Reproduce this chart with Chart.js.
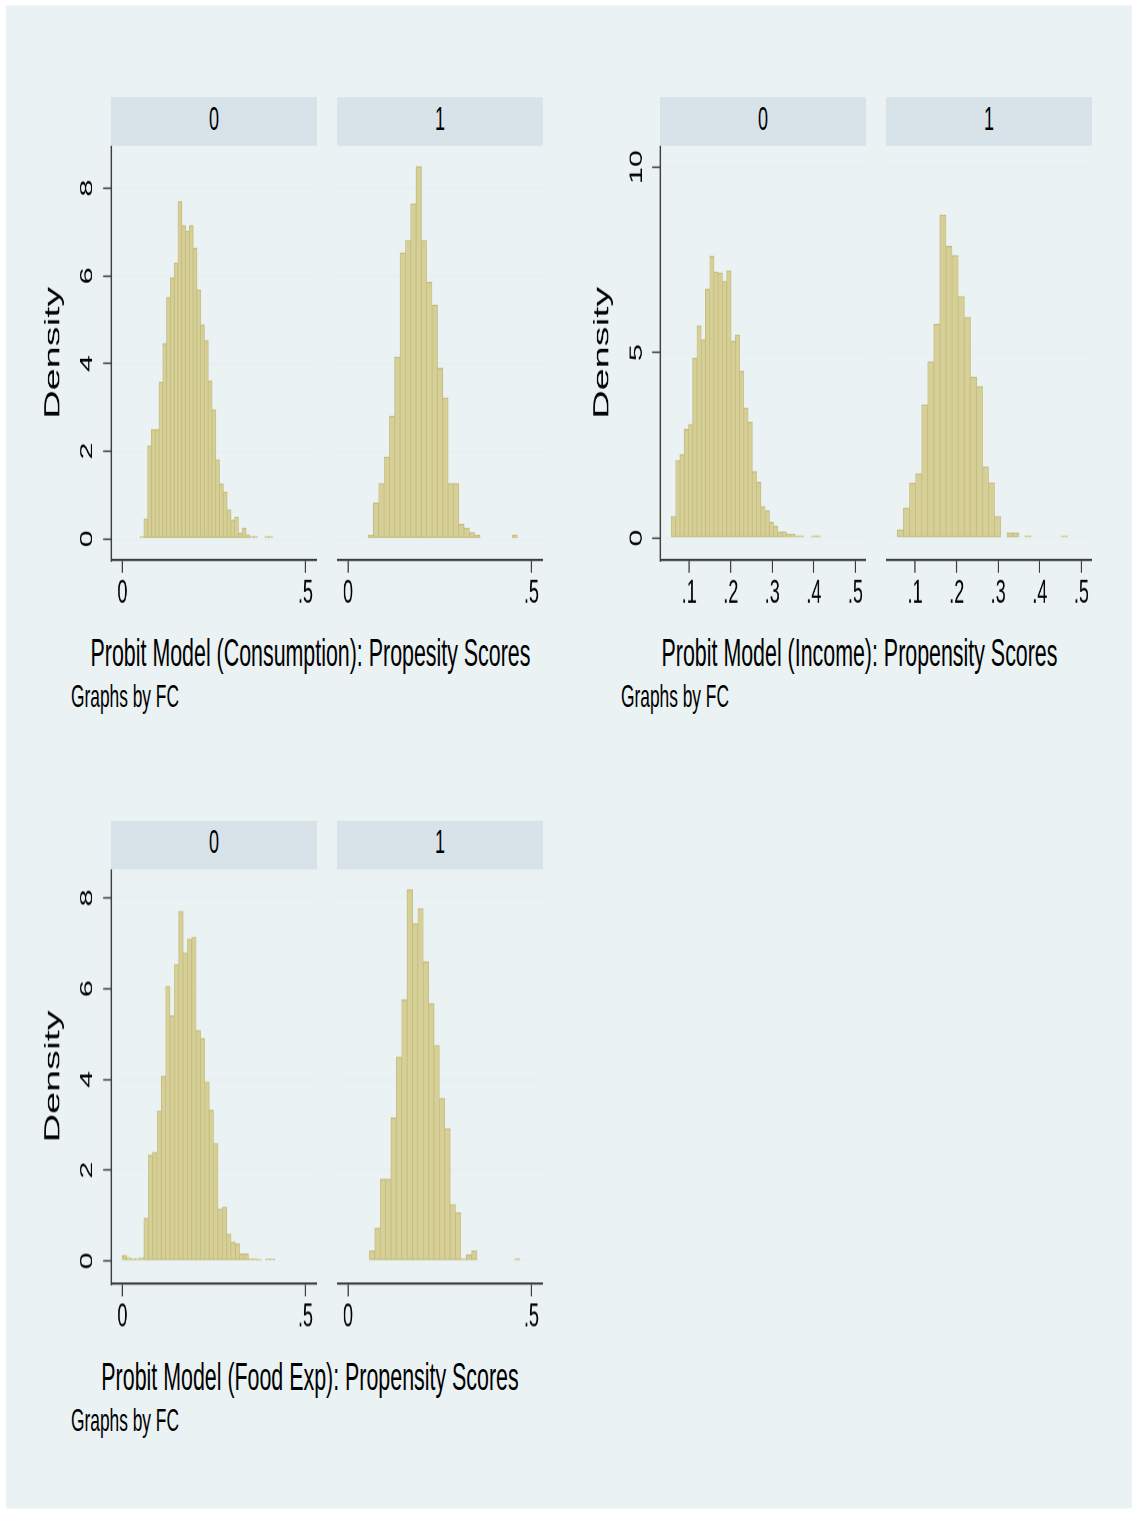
<!DOCTYPE html>
<html>
<head>
<meta charset="utf-8">
<title>Propensity score histograms by FC</title>
<script src="https://cdn.jsdelivr.net/npm/chart.js@4.4.1/dist/chart.umd.min.js"></script>
<style>
  html, body { margin: 0; padding: 0; background: #ffffff; }
  /* The figure is laid out in a short frame and stretched vertically,
     which gives the tall, condensed lettering of the exported graph. */
  #page { position: absolute; left: 0; top: 0; width: 1138px; height: 841.11px;
          transform: scaleY(1.8); transform-origin: 0 0; }
  .bg { position: absolute; left: 6px; top: 3.33px; width: 1126px; height: 834.4px; background: #eaf2f3; }
  .strip { position: absolute; height: 27.22px; background: #d7e3e9; }
  .strip span { position: absolute; left: 0; right: 0; top: 2.8px; text-align: center;
                font: 18px/18px "Liberation Sans", Arial, sans-serif; color: #000; }
  .title { position: absolute; font: 21.4px/21.4px "Liberation Sans", Arial, sans-serif;
           color: #000; white-space: nowrap; transform: translateX(-50%); }
  .note { position: absolute; font: 17.35px/17.35px "Liberation Sans", Arial, sans-serif;
          color: #000; white-space: nowrap; }
  canvas { position: absolute; }
</style>
</head>
<body>
<div id="page"><div class="bg"></div></div>
<script>
// ---- data -------------------------------------------------------------
const fcGroups = ['0', '1'];

const consTicksX = [0, 0.5];
const consTickLabelsX = ['0', '.5'];
const incTicksX = [0.1, 0.2, 0.3, 0.4, 0.5];
const incTickLabelsX = ['.1', '.2', '.3', '.4', '.5'];

const consTicksY = [0, 2, 4, 6, 8];
const consTickLabelsY = ['0', '2', '4', '6', '8'];
const incTicksY = [0, 5, 10];
const incTickLabelsY = ['0', '5', '10'];
const foodTicksY = [0, 2, 4, 6, 8];
const foodTickLabelsY = ['0', '2', '4', '6', '8'];

// Histogram bins: lower edge of the first bin, bin width, density per bin
const consFC0Start = 0.0484, consFC0Width = 0.01033;
const consFC0 = [0.05, 0.45, 2.12, 2.49, 2.49, 3.57, 4.45, 5.50, 5.95, 6.29,
                 7.69, 7.14, 7.01, 7.14, 6.63, 5.68, 4.88, 4.52, 3.60, 2.94,
                 1.80, 1.25, 1.06, 0.66, 0.43, 0.49, 0.13, 0.24, 0.09, 0.05,
                 0.05, 0, 0, 0.05, 0.05];

const consFC1Start = 0.0546, consFC1Width = 0.01454;
const consFC1 = [0.08, 0.82, 1.26, 1.86, 2.79, 4.14, 6.52, 6.80, 7.64, 8.49,
                 6.80, 5.85, 5.33, 3.89, 3.21, 1.26, 1.26, 0.33, 0.24, 0.14,
                 0.08, 0, 0, 0, 0, 0, 0, 0.08];

const incFC0Start = 0.0573, incFC0Width = 0.01024;
const incFC0 = [0.58, 2.09, 2.25, 2.93, 3.06, 4.85, 5.72, 5.34, 6.71, 7.60,
                7.17, 7.14, 6.91, 7.20, 5.31, 5.47, 4.50, 3.50, 3.12, 1.79,
                1.50, 0.85, 0.74, 0.42, 0.32, 0.17, 0.17, 0.10, 0.10, 0.06,
                0.06, 0, 0, 0.06, 0.06];

const incFC1Start = 0.0573, incFC1Width = 0.01463;
const incFC1 = [0.22, 0.81, 1.48, 1.73, 3.59, 4.75, 5.76, 8.70, 7.86, 7.61,
                6.51, 5.94, 4.34, 4.08, 1.92, 1.49, 0.58, 0, 0.14, 0.14,
                0, 0.06, 0, 0, 0, 0, 0, 0.06];

const foodFC0Start = -0.0008, foodFC0Width = 0.01189;
const foodFC0 = [0.12, 0.07, 0.05, 0.05, 0.07, 0.94, 2.33, 2.39, 3.30, 4.07,
                 6.05, 5.40, 6.53, 7.70, 6.78, 7.09, 7.13, 5.08, 4.90, 3.94,
                 3.32, 2.59, 1.14, 1.18, 0.59, 0.41, 0.37, 0.15, 0.15, 0.05,
                 0.05, 0.02, 0, 0.04, 0.04];

const foodFC1Start = 0.0583, foodFC1Width = 0.01467;
const foodFC1 = [0.22, 0.72, 1.80, 1.80, 3.15, 4.49, 5.75, 8.18, 7.43, 7.76,
                 6.59, 5.67, 4.75, 3.58, 2.91, 1.24, 1.06, 0.05, 0.13, 0.22,
                 0, 0, 0, 0, 0, 0, 0, 0.05];

const consTitle = 'Probit Model (Consumption): Propesity Scores';
const incTitle = 'Probit Model (Income): Propensity Scores';
const foodTitle = 'Probit Model (Food Exp): Propensity Scores';
const noteText = 'Graphs by FC';

// ---- layout & style ----------------------------------------------------
const S = 1.8;                 // vertical stretch applied to #page
const FONT = '"Liberation Sans", Arial, sans-serif';
const BAR_FILL = 'rgb(214,207,152)';
const BAR_LINE = 'rgb(198,190,126)';
const GRID_COLOR = '#e8f0f2';
const AXIS_COLOR = '#3c3c3c';
const PLOT_W = 206, PLOT_H = 230, X_AXIS_H = 40, Y_AXIS_W = 80;
const ROW_TOP = [146 / S, 870 / S];
const STRIP_TOP = [97 / S, 821 / S];

const page = document.getElementById('page');

function addStrip(left, top, label) {
  const d = document.createElement('div');
  d.className = 'strip';
  d.style.left = left + 'px';
  d.style.top = top + 'px';
  d.style.width = PLOT_W + 'px';
  const s = document.createElement('span');
  s.textContent = label;
  d.appendChild(s);
  page.appendChild(d);
}

function addText(cls, text, x, top) {
  const d = document.createElement('div');
  d.className = cls;
  d.textContent = text;
  d.style.left = x + 'px';
  d.style.top = top + 'px';
  page.appendChild(d);
}

function buildPanel(p) {
  const yW = p.showY ? Y_AXIS_W : 0;
  const canvas = document.createElement('canvas');
  canvas.width = yW + PLOT_W;
  canvas.height = PLOT_H + X_AXIS_H;
  canvas.style.left = (p.plotLeft - yW) + 'px';
  canvas.style.top = p.plotTop + 'px';
  page.appendChild(canvas);

  const points = p.heights.map((h, i) => ({ x: p.start + (i + 0.5) * p.width, y: h }));

  return new Chart(canvas, {
    type: 'bar',
    data: {
      datasets: [{
        data: points,
        backgroundColor: BAR_FILL,
        borderColor: BAR_LINE,
        borderWidth: 0.8,
        borderSkipped: false,
        barPercentage: 1,
        categoryPercentage: 1
      }]
    },
    options: {
      responsive: false,
      animation: false,
      devicePixelRatio: S,
      events: [],
      layout: { padding: 0 },
      plugins: { legend: { display: false }, tooltip: { enabled: false } },
      scales: {
        x: {
          type: 'linear',
          min: p.xMin, max: p.xMax,
          offset: false,
          afterBuildTicks: s => { s.ticks = p.xTicks.map(v => ({ value: v })); },
          afterFit: s => { s.height = X_AXIS_H; s.paddingLeft = 0; s.paddingRight = 0; },
          ticks: {
            autoSkip: false, maxRotation: 0, minRotation: 0, padding: 1,
            color: '#000', font: { family: FONT, size: 18, lineHeight: 1.2 },
            callback: (v, i) => p.xLabels[i]
          },
          grid: { offset: false, drawOnChartArea: false, drawTicks: true, tickLength: 7.2,
                  tickColor: AXIS_COLOR, tickWidth: 1.2 },
          border: { display: true, color: AXIS_COLOR, width: 1.2 }
        },
        y: {
          min: p.yMin, max: p.yMax,
          afterBuildTicks: s => { s.ticks = p.yTicks.map(v => ({ value: v })); },
          afterFit: s => { s.width = yW; s.paddingTop = 0; s.paddingBottom = 0; },
          ticks: {
            display: p.showY, autoSkip: false, minRotation: 90, maxRotation: 90,
            crossAlign: 'center', padding: p.yLabelPad || 0,
            color: '#000', font: { family: FONT, size: 17, lineHeight: 1.2 },
            callback: (v, i) => p.yLabels[i]
          },
          grid: { offset: false, color: GRID_COLOR, lineWidth: 1.6, drawTicks: p.showY, tickLength: 8,
                  tickColor: AXIS_COLOR, tickWidth: 0.9 },
          border: { display: p.showY, color: AXIS_COLOR, width: 1.6 },
          title: { display: p.showY, text: 'Density', color: '#000',
                   font: { family: FONT, size: 22, lineHeight: 1.2 },
                   padding: { top: 9, bottom: 0 } }
        }
      }
    }
  });
}

// ---- panels ------------------------------------------------------------
const consRange = { yMin: -0.479, yMax: 8.964 };
const incRange = { yMin: -0.585, yMax: 10.574 };
const foodRange = { yMin: -0.496, yMax: 8.63 };

const panels = [
  { plotLeft: 111, plotTop: ROW_TOP[0], showY: true, yLabelPad: 10.6,
    xMin: -0.0309, xMax: 0.5328, xTicks: consTicksX, xLabels: consTickLabelsX,
    yTicks: consTicksY, yLabels: consTickLabelsY, ...consRange,
    start: consFC0Start, width: consFC0Width, heights: consFC0 },
  { plotLeft: 337, plotTop: ROW_TOP[0], showY: false,
    xMin: -0.0301, xMax: 0.5328, xTicks: consTicksX, xLabels: consTickLabelsX,
    yTicks: consTicksY, yLabels: consTickLabelsY, ...consRange,
    start: consFC1Start, width: consFC1Width, heights: consFC1 },
  { plotLeft: 660, plotTop: ROW_TOP[0], showY: true, yLabelPad: 5.8,
    xMin: 0.0301, xMax: 0.5265, xTicks: incTicksX, xLabels: incTickLabelsX,
    yTicks: incTicksY, yLabels: incTickLabelsY, ...incRange,
    start: incFC0Start, width: incFC0Width, heights: incFC0 },
  { plotLeft: 886, plotTop: ROW_TOP[0], showY: false,
    xMin: 0.0301, xMax: 0.5265, xTicks: incTicksX, xLabels: incTickLabelsX,
    yTicks: incTicksY, yLabels: incTickLabelsY, ...incRange,
    start: incFC1Start, width: incFC1Width, heights: incFC1 },
  { plotLeft: 111, plotTop: ROW_TOP[1], showY: true, yLabelPad: 10.6,
    xMin: -0.0309, xMax: 0.5328, xTicks: consTicksX, xLabels: consTickLabelsX,
    yTicks: foodTicksY, yLabels: foodTickLabelsY, ...foodRange,
    start: foodFC0Start, width: foodFC0Width, heights: foodFC0 },
  { plotLeft: 337, plotTop: ROW_TOP[1], showY: false,
    xMin: -0.0301, xMax: 0.5328, xTicks: consTicksX, xLabels: consTickLabelsX,
    yTicks: foodTicksY, yLabels: foodTickLabelsY, ...foodRange,
    start: foodFC1Start, width: foodFC1Width, heights: foodFC1 }
];

// by-group header strips
addStrip(111, STRIP_TOP[0], fcGroups[0]);
addStrip(337, STRIP_TOP[0], fcGroups[1]);
addStrip(660, STRIP_TOP[0], fcGroups[0]);
addStrip(886, STRIP_TOP[0], fcGroups[1]);
addStrip(111, STRIP_TOP[1], fcGroups[0]);
addStrip(337, STRIP_TOP[1], fcGroups[1]);

panels.forEach(buildPanel);

// axis titles and notes under each graph
const ROW_SHIFT = 724 / S;
addText('title', consTitle, 310.5, 352.8);
addText('title', incTitle, 859.5, 352.8);
addText('title', foodTitle, 310, 352.8 + ROW_SHIFT);
addText('note', noteText, 71, 378.7);
addText('note', noteText, 621, 378.7);
addText('note', noteText, 71, 378.7 + ROW_SHIFT);
</script>
</body>
</html>
